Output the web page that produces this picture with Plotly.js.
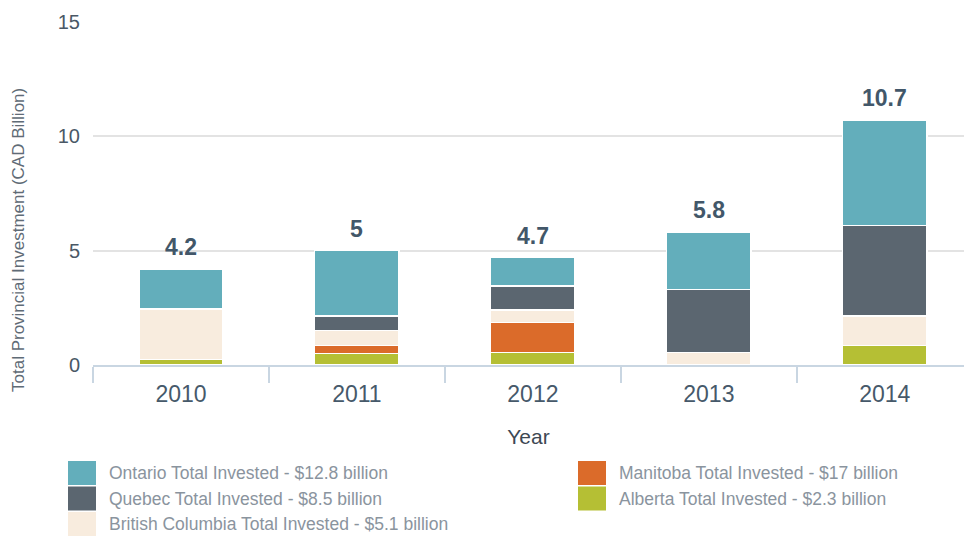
<!DOCTYPE html>
<html>
<head>
<meta charset="utf-8">
<script src="https://cdn.plot.ly/plotly-3.0.1.min.js"></script>
<style>html,body{margin:0;padding:0;background:#fff;}#chart{width:964px;height:537px;}</style>
</head>
<body>
<div id="chart"></div>
<script>
// ---- data ----
const years = ["2010", "2011", "2012", "2013", "2014"];
const alberta  = [0.25, 0.5, 0.55, null, 0.85];
const manitoba = [null, 0.35, 1.3, null, null];
const bc       = [2.2, 0.65, 0.55, 0.55, 1.3];
const quebec   = [null, 0.65, 1.05, 2.75, 3.95];
const ontario  = [1.75, 2.85, 1.25, 2.5, 4.6];
const seriesNames = [
  "Alberta Total Invested - $2.3 billion",
  "Manitoba Total Invested - $17 billion",
  "British Columbia Total Invested - $5.1 billion",
  "Quebec Total Invested - $8.5 billion",
  "Ontario Total Invested - $12.8 billion"
];
const seriesColors = ["#b5bf34", "#db6b2a", "#f8ecde", "#5b6670", "#63aebb"];
const yTickVals = [0, 5, 10, 15];
const xTitle = "Year";
const yTitle = "Total Provincial Investment (CAD Billion)";

const seriesValues = [alberta, manitoba, bc, quebec, ontario];

const traces = seriesValues.map((vals, i) => ({
  type: "bar",
  x: years,
  y: vals,
  name: seriesNames[i],
  marker: { color: seriesColors[i], line: { color: "#ffffff", width: 1.5 } },
  hoverinfo: "name+y",
  showlegend: false
}));

// totals
const totals = years.map((_, j) => seriesValues.reduce((s, arr) => s + (arr[j] || 0), 0));
const fmt = v => { const r = Math.round(v * 10) / 10; return (Math.abs(r - Math.round(r)) < 1e-9) ? String(Math.round(r)) : r.toFixed(1); };

const W = 964, H = 537, ML = 93, MR = 0, MT = 22, MB = 172;
const pw = W - ML - MR, ph = H - MT - MB;
const px2x = px => (px - ML) / pw;
const py2y = py => (H - MB - py) / ph;

const FONT = "Liberation Sans, Arial, sans-serif";

const annotations = [];
years.forEach((yr, j) => {
  annotations.push({
    x: j, y: totals[j], xref: "x", yref: "y",
    text: "<b>" + fmt(totals[j]) + "</b>", showarrow: false,
    xanchor: "center", yanchor: "bottom", yshift: 7,
    font: { family: FONT, size: 23, color: "#425769" }
  });
});

// y-axis title (placed as rotated text)
annotations.push({
  xref: "paper", yref: "paper", x: px2x(18), y: py2y(240),
  xanchor: "center", yanchor: "middle", showarrow: false, textangle: -90,
  text: yTitle, font: { family: FONT, size: 17, color: "#5f6b76" }
});

// custom legend (two columns, column-major order)
const legendOrder = [4, 3, 2, 1, 0]; // Ontario, Quebec, BC, Manitoba, Alberta
const legendPos = [
  { sx: 68, ty: 473 }, { sx: 68, ty: 498.5 }, { sx: 68, ty: 524 },
  { sx: 578, ty: 473 }, { sx: 578, ty: 498.5 }
];
const shapes = [];
legendOrder.forEach((si, k) => {
  const p = legendPos[k];
  shapes.push({
    type: "rect", xref: "paper", yref: "paper",
    x0: px2x(p.sx), x1: px2x(p.sx + 28),
    y0: py2y(p.ty + 12), y1: py2y(p.ty - 12),
    fillcolor: seriesColors[si], line: { width: 0 }
  });
  annotations.push({
    xref: "paper", yref: "paper", x: px2x(p.sx + 39), y: py2y(p.ty),
    xanchor: "left", yanchor: "middle", showarrow: false,
    text: seriesNames[si],
    font: { family: FONT, size: 17.5, color: "#8a949e" }
  });
});

const layout = {
  width: W, height: H,
  margin: { l: ML, r: MR, t: MT, b: MB, pad: 0 },
  paper_bgcolor: "#ffffff", plot_bgcolor: "#ffffff",
  barmode: "stack",
  bargap: 0.52,
  showlegend: false,
  font: { family: FONT, color: "#4a5866" },
  xaxis: {
    type: "category",
    range: [-0.5, 4.45],
    showgrid: false,
    showline: true, linecolor: "#c9d6e2", linewidth: 2,
    ticks: "outside", tickson: "boundaries", ticklen: 16, tickcolor: "#c9d6e2", tickwidth: 2,
    ticklabelstandoff: 7,
    tickfont: { size: 23, color: "#46596a" },
    title: { text: xTitle, font: { size: 21, color: "#3d4853" }, standoff: 24 },
    fixedrange: true
  },
  yaxis: {
    range: [0, 15],
    tickvals: yTickVals,
    showgrid: true, gridcolor: "#e3e3e3", gridwidth: 2,
    zeroline: false, showline: false,
    ticks: "", ticklabelstandoff: 12,
    tickfont: { size: 20, color: "#4a5866" },
    fixedrange: true
  },
  annotations: annotations,
  shapes: shapes
};

Plotly.newPlot("chart", traces, layout, { displayModeBar: false, staticPlot: true });
</script>
</body>
</html>
